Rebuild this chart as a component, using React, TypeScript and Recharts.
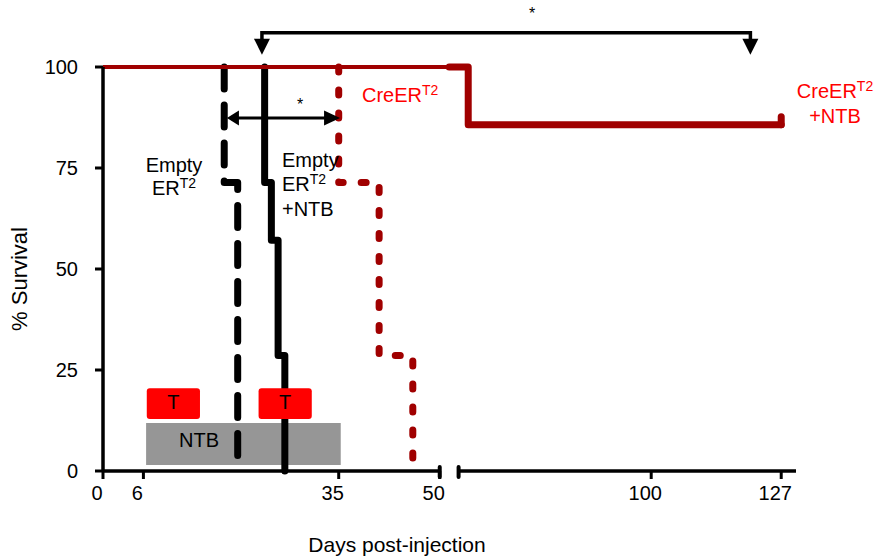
import React from 'react';
import { ComposedChart, Line, XAxis, YAxis, ReferenceLine, ReferenceArea } from 'recharts';

const FONT = 'Liberation Sans, Arial, Helvetica, sans-serif';
const DARK_RED = '#a00000';
const RED = '#ff0000';

// Kaplan-Meier steps: days post-injection / % survival
const emptyDays = [18, 18, 20];
const emptySurvival = [100, 71.4, 0];
const emptyNtbDays = [24, 24, 25, 26, 27];
const emptyNtbSurvival = [100, 71.4, 57.1, 28.6, 0];
const creDays = [35, 35, 41, 46];
const creSurvival = [100, 71.4, 28.6, 0];
// CreER+NTB: thin run up to the axis break, thick run after it
const creNtbEarlyDays = [0, 54];
const creNtbEarlySurvival = [100, 100];
const creNtbLateDays = [55, 62, 127];
const creNtbLateSurvival = [100, 85.7, 85.7];

const xTickDays = [0, 6, 35, 50, 100, 127];
const yTicks = [0, 25, 50, 75, 100];

// treatment windows (days) and their % bands
const tamoxifenStart = [6.5, 23.1];
const tamoxifenEnd = [14.4, 31];
const tamoxifenBand = [12.9, 20.5];
const ntbWindow = [6.4, 35.3];
const ntbBand = [1.5, 11.9];

// significance brackets
const shortArrowDays = [18.4, 35.2];
const shortArrowLevel = 87.4;
const longBracketDays = [23.6, 120.6];
const longBracketLevel = 108.5;

// broken x axis: 0-50 then 60-130 compressed
const BREAK_FROM = 50;
const BREAK_TO = 60;
const BREAK_GAP = 2.8;
const SLOPE_AFTER = 0.715;
const X_MAX = 102.9;
const pos = (d: number) =>
  d <= BREAK_FROM
    ? d
    : d <= BREAK_TO
    ? BREAK_FROM + ((d - BREAK_FROM) * BREAK_GAP) / (BREAK_TO - BREAK_FROM)
    : BREAK_FROM + BREAK_GAP + (d - BREAK_TO) * SLOPE_AFTER;

const toSeries = (days: number[], surv: number[]) => days.map((d, i) => ({ u: pos(d), s: surv[i] }));

const emptyData = toSeries(emptyDays, emptySurvival);
const emptyNtbData = toSeries(emptyNtbDays, emptyNtbSurvival);
const creData = toSeries(creDays, creSurvival);
const creNtbEarly = toSeries(creNtbEarlyDays, creNtbEarlySurvival);
const creNtbLate = toSeries(creNtbLateDays, creNtbLateSurvival);

const XTick = (p: any) => (
  <text x={p.x - 6} y={p.y + 21} textAnchor="middle" fontSize={20} fontFamily={FONT} fill="#000">
    {xTickDays[p.index]}
  </text>
);

const YTick = (p: any) => (
  <text x={p.x} y={p.y + 7} textAnchor="end" fontSize={20} fontFamily={FONT} fill="#000">
    {p.payload.value}
  </text>
);

const DoubleArrow = (p: any) => {
  const { x1, y1, x2 } = p;
  return (
    <g>
      <line x1={x1 + 10} y1={y1} x2={x2 - 14} y2={y1} stroke="#000" strokeWidth={3} />
      <polygon points={`${x1},${y1} ${x1 + 12},${y1 - 7.5} ${x1 + 12},${y1 + 7.5}`} fill="#000" />
      <polygon points={`${x2},${y1} ${x2 - 16},${y1 - 7.5} ${x2 - 16},${y1 + 7.5}`} fill="#000" />
    </g>
  );
};

const Bracket = (p: any) => {
  const { x1, y1, x2 } = p;
  const head = (x: number) => `${x - 8},${y1 + 6} ${x + 8},${y1 + 6} ${x},${y1 + 22}`;
  return (
    <g>
      <path d={`M${x1},${y1 + 8} V${y1} H${x2} V${y1 + 8}`} stroke="#000" strokeWidth={3.5} fill="none" />
      <polygon points={head(x1)} fill="#000" />
      <polygon points={head(x2)} fill="#000" />
    </g>
  );
};

const TBox = (p: any) => (
  <g>
    <rect x={p.x} y={p.y} width={p.width} height={p.height} rx={3} fill={RED} />
    <text x={p.x + p.width / 2} y={p.y + p.height / 2 + 5} textAnchor="middle" fontSize={20} fontFamily={FONT} fill="#000">
      T
    </text>
  </g>
);

const CensorDot = (p: any) =>
  p.index === creNtbLateDays.length - 1 ? (
    <line key="censor" x1={p.cx} y1={p.cy} x2={p.cx} y2={p.cy - 8} stroke={DARK_RED} strokeWidth={7} strokeLinecap="round" />
  ) : (
    <g key={`d${p.index}`} />
  );

const lineBase = {
  dataKey: 's',
  type: 'stepAfter' as const,
  dot: false,
  activeDot: false,
  isAnimationActive: false,
  strokeLinecap: 'round' as const,
  strokeLinejoin: 'round' as const,
};

const Sup = ({ children }: { children: React.ReactNode }) => (
  <tspan fontSize={14} dy={-7}>
    {children}
  </tspan>
);

export default function App() {
  return (
    <div style={{ position: 'absolute', left: 0, top: 0, width: 877, height: 559, background: '#fff' }}>
      <ComposedChart width={877} height={559} margin={{ top: 67, right: 81, bottom: 0, left: 0 }}>
        <XAxis
          type="number"
          dataKey="u"
          domain={[0, X_MAX]}
          ticks={xTickDays.map(pos)}
          interval={0}
          allowDataOverflow
          axisLine={false}
          tickLine={{ stroke: '#000', strokeWidth: 3 }}
          tickSize={8}
          tickMargin={0}
          tick={XTick}
          height={88}
        />
        <YAxis
          type="number"
          domain={[0, 100]}
          ticks={yTicks}
          interval={0}
          width={103}
          axisLine={{ stroke: '#000', strokeWidth: 3.5 }}
          tickLine={{ stroke: '#000', strokeWidth: 3 }}
          tickSize={8}
          tickMargin={17}
          tick={YTick}
        />

        <ReferenceArea x1={pos(ntbWindow[0])} x2={pos(ntbWindow[1])} y1={ntbBand[0]} y2={ntbBand[1]} fill="#969696" fillOpacity={1} stroke="none" ifOverflow="visible" />

        {/* broken x axis */}
        <ReferenceLine segment={[{ x: 0, y: 0 }, { x: pos(BREAK_FROM), y: 0 }]} stroke="#000" strokeWidth={3.5} ifOverflow="visible" />
        <ReferenceLine segment={[{ x: pos(BREAK_TO), y: 0 }, { x: X_MAX, y: 0 }]} stroke="#000" strokeWidth={3.5} ifOverflow="visible" />
        <ReferenceLine segment={[{ x: pos(BREAK_FROM), y: -1.5 }, { x: pos(BREAK_FROM), y: 1 }]} stroke="#000" strokeWidth={4} strokeLinecap="round" ifOverflow="visible" />
        <ReferenceLine segment={[{ x: pos(BREAK_TO), y: -1.5 }, { x: pos(BREAK_TO), y: 1 }]} stroke="#000" strokeWidth={4} strokeLinecap="round" ifOverflow="visible" />

        <Line {...lineBase} data={emptyData} stroke="#000" strokeWidth={7} strokeDasharray="22 16" />
        <Line {...lineBase} data={emptyNtbData} stroke="#000" strokeWidth={7} />
        <Line {...lineBase} data={creData} stroke={DARK_RED} strokeWidth={7} strokeDasharray="5 18" />
        <Line {...lineBase} data={creNtbLate} stroke={DARK_RED} strokeWidth={7} dot={CensorDot} />
        <Line {...lineBase} data={creNtbEarly} stroke={DARK_RED} strokeWidth={4} />

        {tamoxifenStart.map((s, i) => (
          <ReferenceArea
            key={`t${i}`}
            x1={pos(s)}
            x2={pos(tamoxifenEnd[i])}
            y1={tamoxifenBand[0]}
            y2={tamoxifenBand[1]}
            ifOverflow="visible"
            shape={TBox}
            zIndex={700}
          />
        ))}

        <ReferenceLine
          segment={[{ x: pos(shortArrowDays[0]), y: shortArrowLevel }, { x: pos(shortArrowDays[1]), y: shortArrowLevel }]}
          ifOverflow="visible"
          shape={DoubleArrow}
          zIndex={800}
        />
        <ReferenceLine
          segment={[{ x: pos(longBracketDays[0]), y: longBracketLevel }, { x: pos(longBracketDays[1]), y: longBracketLevel }]}
          ifOverflow="visible"
          shape={Bracket}
          zIndex={800}
        />
      </ComposedChart>

      <svg width={877} height={559} style={{ position: 'absolute', left: 0, top: 0, pointerEvents: 'none' }} fontFamily={FONT}>
        <text x={174} y={172} textAnchor="middle" fontSize={20}>Empty</text>
        <text x={174} y={195} textAnchor="middle" fontSize={20}>ER<Sup>T2</Sup></text>

        <text x={282} y={167} fontSize={20}>Empty</text>
        <text x={282} y={191} fontSize={20}>ER<Sup>T2</Sup></text>
        <text x={282} y={216} fontSize={20}>+NTB</text>

        <text x={362} y={102} fontSize={20} fill={RED}>CreER<Sup>T2</Sup></text>
        <text x={835} y={98} textAnchor="middle" fontSize={20} fill={RED}>CreER<Sup>T2</Sup></text>
        <text x={835} y={123} textAnchor="middle" fontSize={20} fill={RED}>+NTB</text>

        <text x={199} y={447} textAnchor="middle" fontSize={20}>NTB</text>

        <text x={532} y={19} textAnchor="middle" fontSize={16}>*</text>
        <text x={300} y={110} textAnchor="middle" fontSize={16}>*</text>

        <text x={397} y={552} textAnchor="middle" fontSize={21}>Days post-injection</text>
        <text x={27} y={279} textAnchor="middle" fontSize={22} transform="rotate(-90 27 279)">% Survival</text>
      </svg>
    </div>
  );
}
